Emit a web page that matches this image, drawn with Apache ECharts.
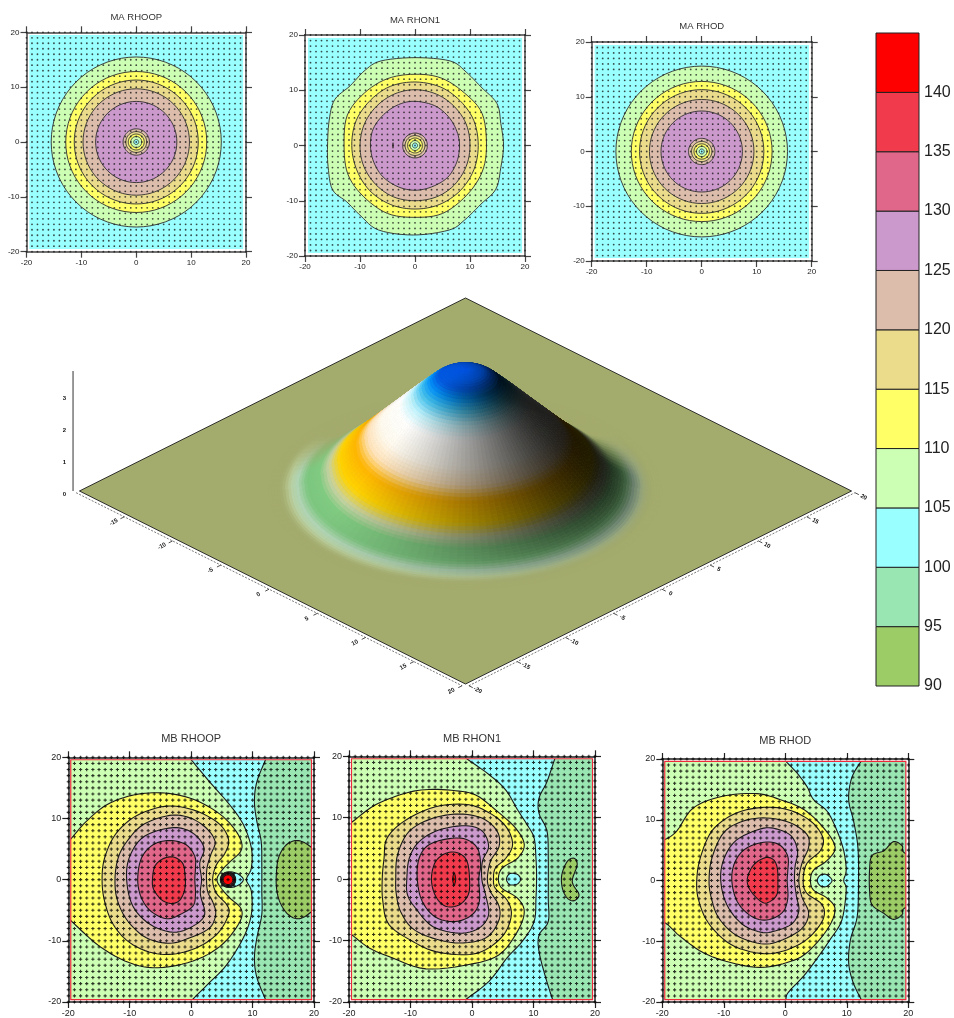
<!DOCTYPE html>
<html><head><meta charset="utf-8">
<style>html,body{margin:0;padding:0;background:#fff}#c{width:954px;height:1018px}</style>
<script src="https://cdn.jsdelivr.net/npm/echarts@6/dist/echarts.min.js"></script></head>
<body><div id="c"></div>
<script>
// ---------- value scale ----------
const bandLevels=[90,95,100,105,110,115,120,125,130,135,140];
const bandTop=145;
const bandColors=['#9ccc66','#99e6b3','#99ffff','#ccffb3','#ffff66','#ebdc8c','#dcbcab','#cc99cc','#e0668a','#f23a4d','#ff0000'];
const axisTicks=[-20,-10,0,10,20];
const gridPoints=[-20,-19,-18,-17,-16,-15,-14,-13,-12,-11,-10,-9,-8,-7,-6,-5,-4,-3,-2,-1,0,1,2,3,4,5,6,7,8,9,10,11,12,13,14,15,16,17,18,19,20];

// ---------- MA panels: contour radii around the origin and traced contours ----------
const maRhoopRingLevels=[105,110,115,120,125,120,115,110,105,100];
const maRhoopRingRadii=[15.5,12.85,11.3,9.7,7.4,2.4,1.9,1.45,1,0.45];
const maRhodRingLevels=[105,110,115,120,125,120,115,110,105,100];
const maRhodRingRadii=[15.6,12.8,11.3,9.5,7.4,2.4,1.85,1.4,0.95,0.45];
const maRhon1RingLevels=[120,115,110,105,100];
const maRhon1RingRadii=[2.25,1.8,1.35,0.9,0.45];
const maRhon1C105=[[0,15.9],[6.4,15.3],[9.3,13.3],[12,10.6],[14.9,7.6],[15.6,4],[16.1,0],[15.6,-4],[14.7,-7.9],[12,-10.6],[9,-13.5],[6.2,-15.3],[-0.3,-16.2],[-6.6,-15.3],[-9.8,-12.8],[-12.4,-10.2],[-15,-8],[-15.8,-3.8],[-15.9,0],[-15.6,4.6],[-14.6,8.3],[-11.8,10.8],[-9.1,13.6],[-6.2,15.3]];
const maRhon1C110=[[0,12.9],[4.8,12.2],[9,9.5],[12.2,5.8],[13,0],[12.2,-4.8],[9.4,-9],[5,-12.3],[0,-13],[-5,-12.3],[-9.4,-9.2],[-12.2,-5.2],[-12.9,0],[-12.3,5.5],[-9.2,9.5],[-5,12.1]];
const maRhon1C115=[[0,11.5],[4.6,10.6],[8.2,8.1],[10.7,4.5],[11.5,0],[10.7,-4.4],[8.2,-8.2],[4.4,-10.7],[0,-11.5],[-4.4,-10.7],[-8.2,-8.2],[-10.6,-4.4],[-11.5,0],[-10.7,4.5],[-8.1,8.2],[-4.5,10.7]];
const maRhon1C120=[[0,10.1],[3.9,9.3],[7.1,7.1],[9.3,3.9],[10,0],[9.3,-3.8],[7.1,-7.2],[3.9,-9.3],[0,-10],[-3.9,-9.3],[-7.1,-7.1],[-9.3,-3.8],[-10,0],[-9.2,3.9],[-7,7.1],[-3.8,9.3]];
const maRhon1C125=[[0,8],[3.6,7.2],[6.1,5.2],[7.6,2.6],[8.1,0],[7.6,-3],[5.9,-5.8],[3,-7.5],[0,-8.1],[-3,-7.5],[-5.8,-5.7],[-7.5,-3],[-8.1,0],[-7.6,3],[-5.7,5.6],[-3,7.4]];
const maRhon1Mark=[[-4,0.5],[-3.95,0],[-4,-0.5],[-4.05,0]];

// ---------- MB RHOOP ----------
const mbRhoopC105=[[-0.7,20.5],[0,19.6],[3,16],[6.3,12.2],[8.5,9],[9.8,5.2],[9.8,1.9],[9,0],[9.8,-1.9],[9.8,-5.7],[8.5,-9.5],[5.8,-13.9],[3,-16.8],[0,-19.8],[-0.7,-20.5]];
const mbRhoopC95=[[12.4,20.5],[12.1,19.6],[10.7,16],[10.3,12.8],[10.7,9.5],[11.4,6.25],[11.5,2.4],[11.5,-1.9],[11.5,-5.7],[10.7,-9.5],[10.3,-12.8],[10.7,-16],[12.1,-19.6],[12.4,-20.5]];
const mbRhoopC90=[[17.2,6.4],[15.5,5.7],[14.3,3.8],[13.9,1.4],[13.9,-1.4],[14.5,-3.8],[15.8,-5.7],[17.4,-6.4],[19,-5.7],[20.5,-4],[21,0],[20.5,4],[19,5.7]];
const mbRhoopIsland=[[5,0],[6,1.2],[7.5,1],[8.5,0],[7.5,-1],[6,-1.2]];
const mbRhoopC110=[[-21,5.2],[-19.8,6.4],[-17.1,9.5],[-13.8,12.2],[-10,13.7],[-6.2,14.2],[-2.4,13.9],[1.4,12.7],[5.2,10.3],[7.7,7.3],[8.2,4.9],[6.3,2.9],[4.9,1.4],[4.2,0],[4.9,-1.4],[6.3,-3],[8.2,-4.9],[7.7,-7.3],[4.7,-10.9],[0.3,-13.3],[-5.4,-14.4],[-10,-13.6],[-14.9,-10.9],[-19.8,-6.5],[-21,-5.5]];
const mbRhoopC115=[[-14.5,0],[-14.1,3.5],[-12.4,7.3],[-9.5,10.1],[-5.7,11.7],[-2.4,12],[1.4,11],[4.7,9],[6.1,6.5],[5.5,4.3],[4.1,2.4],[3.5,0],[4.1,-2.2],[5.8,-4.1],[6.1,-5.7],[4.4,-8.7],[1.4,-10.9],[-2.4,-12.1],[-6.2,-12],[-10,-10.3],[-12.7,-7.3],[-14.1,-3.5]];
const mbRhoopC120=[[-12.4,0],[-11.9,3.5],[-10.5,6.2],[-7.8,9],[-3.5,10.5],[-0.2,10.1],[2.5,8.4],[3.9,6.2],[3.2,4.1],[2.6,2],[2.5,0],[2.7,-2],[3.5,-3.6],[4,-5.6],[3,-7.9],[-0.2,-9.5],[-3.5,-10.4],[-7.3,-9.5],[-10.3,-6.8],[-12,-3.4]];
const mbRhoopC125=[[-10.5,0],[-10,3.8],[-7.6,7.1],[-2.9,8.5],[0.3,7.6],[2.1,5.2],[1.4,2.7],[1.7,0],[1.5,-2.4],[2.2,-5.7],[0.3,-7.6],[-2.9,-8.6],[-6.7,-7.3],[-9.5,-4.3]];
const mbRhoopC130=[[-8.7,0],[-8.1,3.5],[-6.2,5.7],[-3.5,6.4],[-0.8,5.7],[0.6,3.8],[0.7,1.9],[0.6,0],[0.7,-2.4],[0.3,-4.3],[-1.8,-5.7],[-4,-6.4],[-6.5,-5.2],[-8.1,-3]];
const mbRhoopC135=[[-6.3,0],[-5.9,2.2],[-4.6,3.4],[-2.9,3.7],[-1.4,2.7],[-1,0.8],[-1,-1.4],[-1.8,-3.3],[-3.2,-3.9],[-4.8,-3.3],[-6.1,-1.6]];
const mbRhoopRingLevels=[105,110,115,120,125,130,135,140];
const mbRhoopRingRadii=[1.25,1.2,1.15,1.1,1.05,1,0.95,0.8];
const mbRhoopRingCenter=[6,0];

// ---------- MB RHON1 ----------
const mbRhon1C105=[[-2,20.5],[-1,19.7],[2.8,17],[5.5,14.5],[7.4,11.3],[9,8.8],[10.1,6.7],[10.4,3.4],[10.5,0.4],[10.4,-3.1],[10.1,-6.9],[8.2,-10.1],[5.7,-12.8],[2.8,-16.6],[-1,-19.6],[-2,-20.5]];
const mbRhon1C95=[[13.9,20.5],[13.5,19.7],[12.2,15.9],[10.9,13.2],[10.9,10.7],[12.2,7.8],[12.4,3.4],[12.4,-3.1],[12.4,-6.9],[10.9,-9.1],[10.9,-11.8],[12,-16.1],[13.1,-19.6],[13.4,-20.5]];
const mbRhon1C90=[[16.6,3.4],[15.5,2.9],[14.6,0.7],[14.7,-1.5],[15.5,-3.1],[16.6,-3.5],[17.4,-2.5],[16.3,-0.4],[17.1,2.3]];
const mbRhon1Island=[[5.6,0],[6,0.8],[6.7,0.95],[7.5,0.7],[7.9,0],[7.5,-0.7],[6.7,-0.95],[6,-0.8]];
const mbRhon1C110=[[-21,8.3],[-19.5,9.3],[-15.7,12.1],[-10.8,14],[-7,14.6],[-2.7,14.4],[0.6,13.7],[3.8,11.3],[7.1,8.3],[8.5,5.6],[7.4,3.4],[4.9,1.8],[4.3,0],[4.9,-1.5],[7.4,-3.1],[8.5,-5.3],[7.4,-8.5],[4.4,-12.3],[-0.5,-13.9],[-7.5,-14.6],[-13,-12.8],[-16.7,-11.2],[-19.5,-9.1],[-21,-8]];
const mbRhon1C115=[[-14.6,0],[-14.3,3.4],[-13.8,6.7],[-10.8,9.6],[-5.9,11.8],[-0.5,12.1],[3.3,10.5],[5.7,8.3],[6.6,5.6],[5.5,3.4],[3.8,1.8],[3.5,0],[3.8,-1.5],[5.7,-3.4],[6.4,-5.8],[5.2,-9],[2.2,-11.5],[-1,-12.3],[-5.9,-11.8],[-9.7,-10.1],[-13.5,-7.4],[-14.5,-3.6]];
const mbRhon1C120=[[-12.4,0],[-12.1,4],[-10.2,7.8],[-6.4,9.9],[-2.1,10.6],[1.7,9.9],[4.1,7.8],[4.4,5.3],[3,2.9],[2.5,0],[3,-2],[4.4,-4.4],[4.3,-6.9],[2.2,-9.6],[-2.1,-10.4],[-6.4,-9.6],[-9.7,-8],[-11.6,-5.3],[-12.3,-2.5]];
const mbRhon1C125=[[-10.6,0],[-10.2,3.4],[-8.6,6.1],[-5.4,8],[-1,8.7],[1.7,7.8],[2.7,5.3],[1.7,2.9],[1.6,0],[2.2,-2.5],[2.7,-5.8],[1.1,-8],[-2.1,-8.8],[-6.4,-7.7],[-9.2,-4.7],[-10.5,-2.5]];
const mbRhon1C130=[[-8.9,0],[-8.6,3.4],[-7,5.6],[-3.7,6.6],[-1,6.5],[0.9,5],[1.4,2.3],[1.1,0],[1.2,-3.6],[0,-5.8],[-2.7,-6.9],[-5.9,-6.2],[-8.1,-3.6]];
const mbRhon1C135=[[-6.6,0],[-5.9,2.9],[-4,4.3],[-2.1,4.2],[-0.8,2.9],[-0.4,0],[-0.6,-2.5],[-2.1,-4.2],[-4.3,-4.4],[-5.9,-2.8]];
const mbRhon1C140=[[-2.9,1],[-2.65,0],[-2.9,-1],[-3.15,0]];

// ---------- MB RHOD ----------
const mbRhodC105=[[-0.5,20.5],[0.1,19.6],[1.9,17.7],[3.5,15.5],[4.6,13.3],[6.8,11.4],[8.4,8.2],[9.5,4.9],[9.9,1.7],[9.5,0],[9.9,-1.6],[9.2,-6.5],[7.3,-9.7],[4.9,-13.2],[3,-15.7],[0.5,-18.4],[0.1,-19.5],[0,-20.5]];
const mbRhodC95=[[12.9,20.5],[12.3,19.6],[10.8,16.9],[10.3,13.3],[11.1,9.8],[11.8,5.5],[11.9,0],[11.7,-5.9],[10.6,-9.7],[10.3,-13.5],[11,-16.7],[12.3,-19.5],[12.9,-20.5]];
const mbRhodC90=[[14.1,4.1],[16,4.9],[17.6,6.4],[19,5.7],[19.2,4.7],[21,3],[21,-3],[19.2,-4.7],[19,-5.6],[17.6,-6.4],[16,-5.4],[14.1,-4],[13.7,-1.6],[13.7,1.7]];
const mbRhodIsland=[[5.2,0],[5.6,0.8],[6.4,1.05],[7.1,0.7],[7.6,0],[7.1,-0.7],[6.4,-1.05],[5.6,-0.8]];
const mbRhodC110=[[-21,6.8],[-19.5,6.8],[-17.6,8.2],[-14.9,12],[-10,13.9],[-4.6,14.3],[-0.8,13.3],[3,11.7],[6.2,8.7],[8.1,5.5],[6.8,3.3],[4.6,1.7],[4.1,0],[4.6,-1.6],[6.8,-2.9],[8.1,-4.8],[6.8,-8.1],[3.5,-11.9],[0.3,-13.5],[-4.1,-14.3],[-8.9,-13.5],[-13.3,-11.9],[-17.1,-9.2],[-19.5,-7],[-21,-7]];
const mbRhodC115=[[-14.4,0],[-13.8,3.8],[-11.9,8.2],[-8.4,10.9],[-4.1,12],[0.3,11.7],[4.1,9.8],[6.1,7.1],[5.7,4.9],[3.5,2.8],[2.9,0],[3.5,-2.1],[6,-4],[6.1,-6.5],[3.5,-9.7],[-0.3,-11.6],[-4.1,-12],[-8.9,-10.5],[-12.5,-7],[-14.1,-3.2]];
const mbRhodC120=[[-12.4,0],[-11.9,3.8],[-10,7.9],[-6.8,9.8],[-3,10.3],[0.8,9.5],[3.5,7.6],[3.8,5.5],[2.7,2.8],[2.2,0],[2.7,-2.7],[3.8,-5.4],[2.6,-8],[-1,-10],[-4,-10.4],[-8,-9],[-10.8,-6.2],[-12,-3]];
const mbRhodC125=[[-10.5,0],[-10,3.5],[-8,6.6],[-4,8.5],[-1.5,8.5],[1,7.3],[2,4.8],[1.6,2.4],[1.5,0],[1.8,-2.5],[2.2,-5],[1,-7.2],[-2,-8.4],[-4,-8.5],[-7,-7.2],[-9.5,-4]];
const mbRhodC130=[[-8.7,0],[-8.2,3],[-6.5,5.2],[-3.5,6.3],[-1,5.9],[0.4,4],[0.4,1.5],[0.3,0],[0.4,-3],[-0.5,-5.3],[-3,-6.5],[-5.5,-5.9],[-7.8,-3.5]];
const mbRhodC135=[[-6.2,0],[-5.7,1.7],[-4.9,2.8],[-3.9,3.5],[-2.8,3.8],[-1.8,3.3],[-1.3,2],[-1.2,0],[-1.4,-2.4],[-3,-3.7],[-4.3,-3.2],[-5.7,-1.6]];

// ---------- 3D surface: height profile with distance from the centre ----------
const surfaceRadii=[0,1,2,4,6,8,9,10,11,12,13,14,30];
const surfaceHeights=[3.78,3.75,3.62,2.9,2.14,1.39,1.02,0.68,0.38,0.16,0.03,0,0];
const surfaceColorRadii=[0,2,2.6,3.2,4,4.8,6.2,7.2,8,9.2,10,10.7,11.6,12.3,13,13.7];
const surfaceColors=['#0054de','#0058e0','#0090f8','#40c0f0','#c0f4ff','#ffffff','#fffaf0','#ffe2b8','#ffb400','#ffd400','#c8d2a4','#80cb82','#7cc680','#b0d4b4','#bccf9c','#a3ab6d'];
const surfaceGroundColor='#a3ab6d';
const surfaceEdgeTicks=[-20,-15,-10,-5,0,5,10,15,20];
const surfaceHeightTicks=[0,1,2,3];
const surfaceExtent=20;

// ---------- layout and style ----------
const fontFamily='"Liberation Sans",Arial,sans-serif';
const panelBoxes=[
 {title:'MA RHOOP',l:26.5,r:246,t:32.3,b:251.7,ty:12,fs:9.5,tick:8,dot:1.8,line:0.9,frame:false,ext:19.5},
 {title:'MA RHON1',l:305,r:525,t:35,b:256,ty:15,fs:9.5,tick:8,dot:1.8,line:0.9,frame:false,ext:19.5},
 {title:'MA RHOD',l:591.7,r:811.7,t:42,b:261,ty:21,fs:9.5,tick:8,dot:1.8,line:0.9,frame:false,ext:19.5},
 {title:'MB RHOOP',l:68.3,r:314,t:757.3,b:1003,ty:733,fs:11,tick:9,dot:3.2,line:1.1,frame:true,ext:19.6},
 {title:'MB RHON1',l:349,r:595,t:756.3,b:1002.3,ty:733,fs:11,tick:9,dot:3.2,line:1.1,frame:true,ext:19.6},
 {title:'MB RHOD',l:662.3,r:908.3,t:759,b:1005,ty:735,fs:11,tick:9,dot:3.2,line:1.1,frame:true,ext:19.6}];
const panelContours=[
 {base:100,curves:[],rings:[maRhoopRingLevels,maRhoopRingRadii,[0,0]]},
 {base:100,curves:[[105,maRhon1C105],[110,maRhon1C110],[115,maRhon1C115],[120,maRhon1C120],[125,maRhon1C125],[130,maRhon1Mark]],rings:[maRhon1RingLevels,maRhon1RingRadii,[0,0]]},
 {base:100,curves:[],rings:[maRhodRingLevels,maRhodRingRadii,[0,0]]},
 {base:100,curves:[[95,mbRhoopC95,1],[90,mbRhoopC90],[105,mbRhoopC105,-1],[100,mbRhoopIsland],[110,mbRhoopC110,-1],[115,mbRhoopC115],[120,mbRhoopC120],[125,mbRhoopC125],[130,mbRhoopC130],[135,mbRhoopC135]],rings:[mbRhoopRingLevels,mbRhoopRingRadii,mbRhoopRingCenter]},
 {base:100,curves:[[95,mbRhon1C95,1],[90,mbRhon1C90],[105,mbRhon1C105,-1],[100,mbRhon1Island],[110,mbRhon1C110,-1],[115,mbRhon1C115],[120,mbRhon1C120],[125,mbRhon1C125],[130,mbRhon1C130],[135,mbRhon1C135],[140,mbRhon1C140]]},
 {base:100,curves:[[95,mbRhodC95,1],[90,mbRhodC90],[105,mbRhodC105,-1],[100,mbRhodIsland],[110,mbRhodC110,-1],[115,mbRhodC115],[120,mbRhodC120],[125,mbRhodC125],[130,mbRhodC130],[135,mbRhodC135]]}];

const colorOf=l=>bandColors[bandLevels.indexOf(l)];
function spline(p,closed){
  const n=p.length,out=[],seg=closed?n:n-1,S=6;
  const at=i=>closed?p[(i+n)%n]:p[Math.max(0,Math.min(n-1,i))];
  for(let i=0;i<seg;i++){
    const a=at(i-1),b=at(i),c=at(i+1),d=at(i+2);
    for(let k=0;k<S;k++){const t=k/S,t2=t*t,t3=t2*t;
      out.push([0,1].map(j=>0.5*(2*b[j]+(c[j]-a[j])*t+(2*a[j]-5*b[j]+4*c[j]-d[j])*t2+(3*b[j]-a[j]-3*c[j]+d[j])*t3)));}
  }
  if(!closed)out.push(p[n-1]);
  return out;
}
function circle(c,r){const o=[];for(let i=0;i<72;i++){const t=i/72*2*Math.PI;o.push([c[0]+r*Math.cos(t),c[1]+r*Math.sin(t)]);}return o;}

const grids=[],xAxes=[],yAxes=[],titles=[],series=[];
const plainAxis=(g,pos,box,labels,kind)=>({
  type:'value',gridIndex:g,position:pos,min:axisTicks[0],max:axisTicks[axisTicks.length-1],interval:axisTicks[1]-axisTicks[0],
  axisLine:{show:true,onZero:false,lineStyle:{color:box.frame?'#222':'#444',width:1.5}},
  axisTick:{show:true,inside:false,length:6,lineStyle:{color:box.frame?'#222':'#444',width:1.2}},
  axisLabel:{show:labels,color:'#222',fontSize:box.tick,fontFamily,margin:7,showMinLabel:true,showMaxLabel:true,hideOverlap:false},
  splitLine:{show:false},minorTick:{show:false}
});
panelBoxes.forEach((box,i)=>{
  grids.push({left:box.l,top:box.t,width:box.r-box.l,height:box.b-box.t,containLabel:false});
  const xi=xAxes.length,yi=yAxes.length;
  xAxes.push(plainAxis(i,'bottom',box,true,'x'),plainAxis(i,'top',box,false,'x'));
  yAxes.push(plainAxis(i,'left',box,true,'y'),plainAxis(i,'right',box,false,'y'));
  titles.push({text:box.title,left:(box.l+box.r)/2,top:box.ty,padding:0,textAlign:'center',textStyle:{fontSize:box.fs,fontWeight:'normal',color:'#333',fontFamily}});
  const pc=panelContours[i],E=box.ext;
  const shapes=[{level:pc.base,pts:[[-E,E],[E,E],[E,-E],[-E,-E]],noStroke:true}];
  pc.curves.forEach(c=>{
    if(c[2]){const sx=c[2]*30;shapes.push({level:c[0],pts:spline(c[1],false).concat([[sx,-30],[sx,30]])});}
    else shapes.push({level:c[0],pts:spline(c[1],true)});
  });
  if(pc.rings)pc.rings[0].forEach((l,k)=>shapes.push({level:l,pts:circle(pc.rings[2],pc.rings[1][k])}));
  series.push({type:'custom',xAxisIndex:xi,yAxisIndex:yi,coordinateSystem:'cartesian2d',silent:true,animation:false,progressive:0,clip:false,
    data:shapes.map((s,k)=>[k,0]),
    renderItem:(p,api)=>{
      const s=shapes[p.dataIndex],a=api.coord([-E,E]),b=api.coord([E,-E]);
      return {type:'polygon',shape:{points:s.pts.map(q=>api.coord(q))},
        style:{fill:colorOf(s.level),stroke:s.noStroke?null:(box.frame?'#1a1a1a':'#2e2e2e'),lineWidth:box.line},
        clipPath:{type:'rect',shape:{x:a[0],y:a[1],width:b[0]-a[0],height:b[1]-a[1]}}};
    }});
  if(box.frame)series.push({type:'custom',xAxisIndex:xi,yAxisIndex:yi,coordinateSystem:'cartesian2d',silent:true,animation:false,
    data:[[0,0]],renderItem:(p,api)=>{const a=api.coord([-E,E]),b=api.coord([E,-E]);
      return {type:'rect',shape:{x:a[0],y:a[1],width:b[0]-a[0],height:b[1]-a[1]},style:{fill:null,stroke:'#ee2b3b',lineWidth:1.2}};}});
  const dots=[];gridPoints.forEach(x=>gridPoints.forEach(y=>dots.push([x,y])));
  series.push({type:'scatter',xAxisIndex:xi,yAxisIndex:yi,silent:true,animation:false,progressive:0,large:false,
    symbol:box.frame?'path://M1 0H2V1H3V2H2V3H1V2H0V1H1Z':'circle',symbolSize:box.dot,
    itemStyle:{color:box.frame?'#000':'#1c1c1c'},data:dots,z:3});
});

// ---------- 3D surface panel ----------
const sG=grids.length;
const pxPerUnit=13.65,zScale=32/pxPerUnit;
const halfU=surfaceExtent*Math.SQRT2;
grids.push({left:465.5-halfU*pxPerUnit,top:491-halfU/2*pxPerUnit,width:2*halfU*pxPerUnit,height:halfU*pxPerUnit,containLabel:false});
const sX=xAxes.length,sY=yAxes.length;
xAxes.push({type:'value',gridIndex:sG,min:-halfU,max:halfU,show:false});
yAxes.push({type:'value',gridIndex:sG,min:-halfU/2,max:halfU/2,show:false});
const flatPoint=(x,y,z)=>[(x+y)/Math.SQRT2,(y-x)/Math.SQRT2/2+(z||0)*zScale];
function lin(xs,ys,v){for(let i=1;i<xs.length;i++)if(v<=xs[i]){const t=(v-xs[i-1])/(xs[i]-xs[i-1]);return ys[i-1]+(ys[i]-ys[i-1])*t;}return ys[ys.length-1];}
const heightAt=r=>{let s=0;for(let k=-4;k<=4;k++)s+=lin(surfaceRadii,surfaceHeights,Math.abs(r+k*0.15));return s/9;};
const rgb=h=>[1,3,5].map(i=>parseInt(h.substr(i,2),16));
function baseColor(r){
  const xs=surfaceColorRadii;if(r>=xs[xs.length-1])return rgb(surfaceColors[xs.length-1]);
  for(let i=1;i<xs.length;i++)if(r<=xs[i]){const t=(r-xs[i-1])/(xs[i]-xs[i-1]),a=rgb(surfaceColors[i-1]),b=rgb(surfaceColors[i]);return a.map((v,j)=>v+(b[j]-v)*t);}
}
const clamp01=v=>Math.max(0,Math.min(1,v));
const ground=rgb(surfaceGroundColor);
const cells=[];const dR=0.2,rings=72,sectors=120;
const ringShade=[];for(let i=0;i<rings;i++){const rm=i*dR+dR/2;ringShade.push({sl:Math.min(1,Math.abs(heightAt(rm+0.3)-heightAt(rm-0.3))/0.6/0.33),base:baseColor(rm),z0:heightAt(i*dR),z1:heightAt(i*dR+dR)});}
for(let i=0;i<rings;i++)for(let j=0;j<sectors;j++){
  const r0=i*dR,r1=r0+dR,t0=j/sectors*2*Math.PI,t1=(j+1)/sectors*2*Math.PI,rm=r0+dR/2,tm=(t0+t1)/2,R=ringShade[i];
  const dot=-0.9*Math.cos(tm)-0.1*Math.sin(tm);
  const f=Math.max(0.1,Math.min(1,1-R.sl*(1-(0.58+0.5*dot))));
  // the foot of the hill melts into the ground behind the cone, and at its outermost rim
  const behind=clamp01((Math.sin(tm)-0.15)/0.45)*clamp01((rm-9.5)/1.5);
  const rim=clamp01((rm-12.7)/1.1);
  const mix=Math.max(behind,rim);
  const c=R.base.map((q,k)=>Math.round(q*f*(1-mix)+ground[k]*mix));
  cells.push({depth:rm*Math.sin(tm),r0,r1,t0,t1,z0:R.z0,z1:R.z1,fill:'rgb('+c.join(',')+')'});
}
cells.sort((a,b)=>b.depth-a.depth);
const planar=(r,t,z)=>[r*Math.cos(t),r*Math.sin(t)/2+z*zScale];
const E3=surfaceExtent;
series.push({type:'custom',xAxisIndex:sX,yAxisIndex:sY,silent:true,animation:false,data:[[0,0]],
  renderItem:(p,api)=>({type:'polygon',shape:{points:[[-E3,-E3],[E3,-E3],[E3,E3],[-E3,E3]].map(q=>api.coord(flatPoint(q[0],q[1])))},style:{fill:surfaceGroundColor,stroke:'#1d1d1d',lineWidth:0.9}})});
series.push({type:'custom',xAxisIndex:sX,yAxisIndex:sY,silent:true,animation:false,progressive:0,data:cells.map((c,i)=>[i,0]),
  renderItem:(p,api)=>{const c=cells[p.dataIndex];
    return {type:'polygon',shape:{points:[planar(c.r0,c.t0,c.z0),planar(c.r1,c.t0,c.z1),planar(c.r1,c.t1,c.z1),planar(c.r0,c.t1,c.z0)].map(q=>api.coord(q))},style:{fill:c.fill,stroke:c.fill,lineWidth:0.7}};}});
// surface axes: edge lines, ticks and rotated tick labels
const axisItems=[];
axisItems.push({a:[-E3,-E3-0.35],b:[E3,-E3-0.35]},{a:[E3+0.35,-E3],b:[E3+0.35,E3]});
surfaceEdgeTicks.forEach(v=>{
  if(v>-20)axisItems.push({label:String(v),at:[v,-E3-1.45],rot:0.5,a:[v,-E3-0.35],b:[v,-E3-0.75]});
  axisItems.push({label:String(v),at:[E3+1.25,v],rot:-0.5,a:[E3+0.35,v],b:[E3+0.75,v]});
});
surfaceHeightTicks.forEach(z=>axisItems.push({label:String(z),at3:[-E3-0.78,-E3-0.78,z-0.12],rot:0}));
series.push({type:'custom',xAxisIndex:sX,yAxisIndex:sY,silent:true,animation:false,data:axisItems.map((c,i)=>[i,0]),
  renderItem:(p,api)=>{const it=axisItems[p.dataIndex],kids=[];
    if(it.a){const a=api.coord(flatPoint(it.a[0],it.a[1])),b=api.coord(flatPoint(it.b[0],it.b[1]));
      kids.push({type:'line',shape:{x1:a[0],y1:a[1],x2:b[0],y2:b[1]},style:{stroke:it.label?'#222':'#777',lineWidth:it.label?0.8:1,lineDash:it.label?null:[2,1.5]}});}
    if(it.label){const q=it.at3?flatPoint(it.at3[0],it.at3[1],it.at3[2]):flatPoint(it.at[0],it.at[1]),c=api.coord(q);
      kids.push({type:'text',x:c[0],y:c[1],rotation:it.rot,style:{text:it.label,fill:'#111',font:'bold 6px '+fontFamily,align:'center',verticalAlign:'middle'}});}
    return {type:'group',children:kids};}});
series.push({type:'custom',xAxisIndex:sX,yAxisIndex:sY,silent:true,animation:false,data:[[0,0]],
  renderItem:(p,api)=>{const a=api.coord(flatPoint(-E3-0.33,-E3-0.33,0)),b=api.coord(flatPoint(-E3-0.33,-E3-0.33,3.75));
    return {type:'line',shape:{x1:a[0],y1:a[1],x2:b[0],y2:b[1]},style:{stroke:'#777',lineWidth:1.5}};}});

// ---------- colour bar ----------
const cG=grids.length;
grids.push({left:876,top:33,width:43,height:653,containLabel:false});
const cX=xAxes.length,cY=yAxes.length;
xAxes.push({type:'value',gridIndex:cG,min:0,max:1,show:false});
yAxes.push({type:'value',gridIndex:cG,position:'right',min:90,max:145,interval:5,
  axisLine:{show:false},axisTick:{show:false},splitLine:{show:false},
  axisLabel:{color:'#222',fontSize:16,fontFamily,margin:5,showMinLabel:true,hideOverlap:false,formatter:v=>v===bandTop?'':String(v)}});
series.push({type:'custom',xAxisIndex:cX,yAxisIndex:cY,silent:true,animation:false,
  data:bandLevels.map((l,i)=>[i,l]),
  renderItem:(p,api)=>{const l=bandLevels[p.dataIndex],a=api.coord([0,l+5]),b=api.coord([1,l]);
    return {type:'rect',shape:{x:a[0],y:a[1],width:b[0]-a[0],height:b[1]-a[1]},style:{fill:bandColors[p.dataIndex],stroke:'#222',lineWidth:1}};}});

const chart=echarts.init(document.getElementById('c'),null,{renderer:'canvas'});
chart.setOption({animation:false,backgroundColor:'#fff',title:titles,tooltip:{show:false},grid:grids,xAxis:xAxes,yAxis:yAxes,series});
</script></body></html>
